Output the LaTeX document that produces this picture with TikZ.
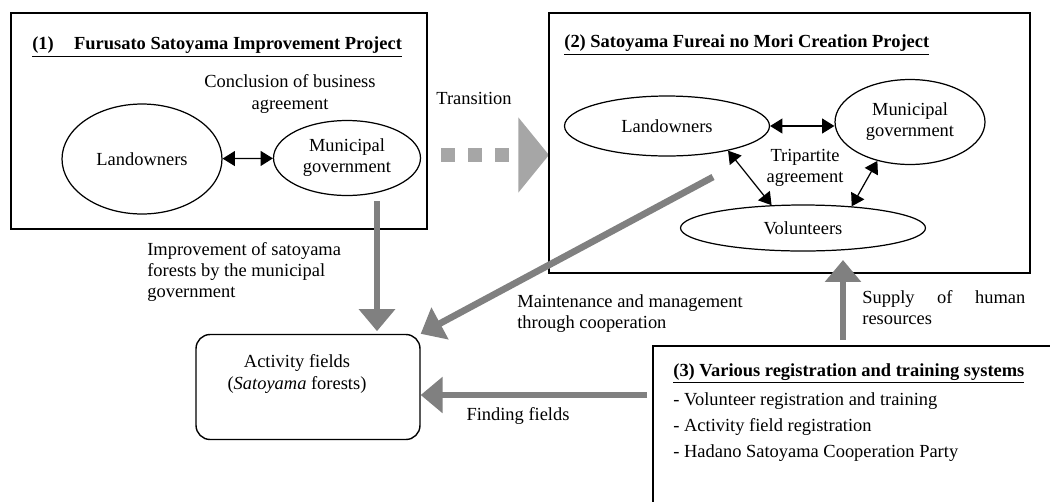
\documentclass[tikz,border=0pt]{standalone}
\usepackage{fontspec}
\setmainfont{Liberation Serif}
\usetikzlibrary{arrows.meta,positioning,shapes.geometric}
\definecolor{arrowgray}{RGB}{128,128,128}
\definecolor{dashgray}{RGB}{166,166,166}

\begin{document}
\begin{tikzpicture}[x=0.02cm, y=-0.02cm,
  every node/.style={font=\fontsize{10.5}{12}\selectfont},
  oval/.style={ellipse, draw, line width=0.7pt, inner sep=0pt, align=center},
  frame/.style={draw, line width=0.8pt},
  dbl/.style={{Triangle[length=7pt,width=8.5pt]}-{Triangle[length=7pt,width=8.5pt]}, line width=0.7pt},
  flow/.style={-{Triangle[length=12.5pt,width=20pt]}, line width=3.8pt, color=arrowgray},
  trans/.style={-{Triangle[length=17.5pt,width=42pt]}, line width=8pt, color=dashgray, dash pattern=on 8pt off 7.4pt},
  title/.style={anchor=west, inner sep=0pt, font=\fontsize{10.5}{12}\selectfont\bfseries},
  lbl/.style={inner sep=0pt, align=left}]
\useasboundingbox (0,0) rectangle (1050,501);

% (1) first project
\draw[frame] (11,13) rectangle (427,229);
\node[title] (t1) at (32,47) {\underline{(1)\hspace{1.1em}Furusato Satoyama Improvement Project}};
\node[align=center, inner sep=0pt] (concl) at (290,94) {Conclusion of business\\agreement};
\node[oval, minimum width=3.2cm, minimum height=2.2cm] (land1) at (142,159) {Landowners};
\node[oval, minimum width=2.94cm, minimum height=1.5cm] (muni1) at (347,158) {Municipal\\government};
\draw[dbl] (land1) -- (muni1);

% transition
\node[inner sep=0pt] (trans) at (474,98) {Transition};
\coordinate (tr1) at (441,155);
\coordinate (tr2) at (549,155);
\draw[trans] (tr1) -- (tr2);

% (2) second project
\draw[frame] (549,13) rectangle (1030,273);
\node[title] (t2) at (564,45) {\underline{(2) Satoyama Fureai no Mori Creation Project}};
\node[oval, minimum width=4.1cm, minimum height=1.2cm] (land2) at (667,126) {Landowners};
\node[oval, minimum width=3.0cm, minimum height=1.7cm] (muni2) at (910,122) {Municipal\\government};
\node[oval, minimum width=4.9cm, minimum height=0.92cm] (vol) at (803,228) {Volunteers};
\node[align=center, inner sep=0pt] (tri) at (805,168) {Tripartite\\agreement};
\draw[dbl] (land2.east) -- (land2.east -| muni2.west);
\draw[dbl] (land2.-22) -- (vol.144);
\draw[dbl] (vol.24) -- (muni2.230);

% activity fields
\node[draw, line width=0.8pt, rounded corners=8pt, minimum width=4.48cm, minimum height=2.1cm] (field) at (308,387) {};
\node[align=center, inner sep=0pt] (fieldtxt) at (297,374) {Activity fields\\(\textit{Satoyama} forests)};

\coordinate (m1) at (377,201);
\draw[flow, shorten >=1.5pt] (m1) -- (m1 |- field.north);
\node[lbl, anchor=west] (impr) at (147,272) {Improvement of satoyama\\forests by the municipal\\government};

\coordinate (m2) at (713,177);
\draw[flow] (m2) -- (field.north east);
\node[lbl, anchor=west] (maint) at (517,314) {Maintenance and management\\through cooperation};

\coordinate (f1) at (647,395);
\draw[flow] (f1) -- (f1 -| field.east);
\node[inner sep=0pt] (find) at (518,416) {Finding fields};

% (3) registration systems
\draw[frame] (653,346) rectangle (1060,520);
\node[lbl, anchor=north west, font=\fontsize{10.5}{15}\selectfont] (reg) at (673,363)
  {\textbf{\underline{(3) Various registration and training systems}}\\[1.5pt]
   - Volunteer registration and training\\
   - Activity field registration\\
   - Hadano Satoyama Cooperation Party};

\coordinate (s1) at (843,340);
\coordinate (s2) at (843,260);
\draw[flow] (s1) -- (s2);
\node[lbl, anchor=west, text width=3.26cm] (supply) at (862,308) {Supply\hfill of\hfill human\\resources};
\end{tikzpicture}
\end{document}
